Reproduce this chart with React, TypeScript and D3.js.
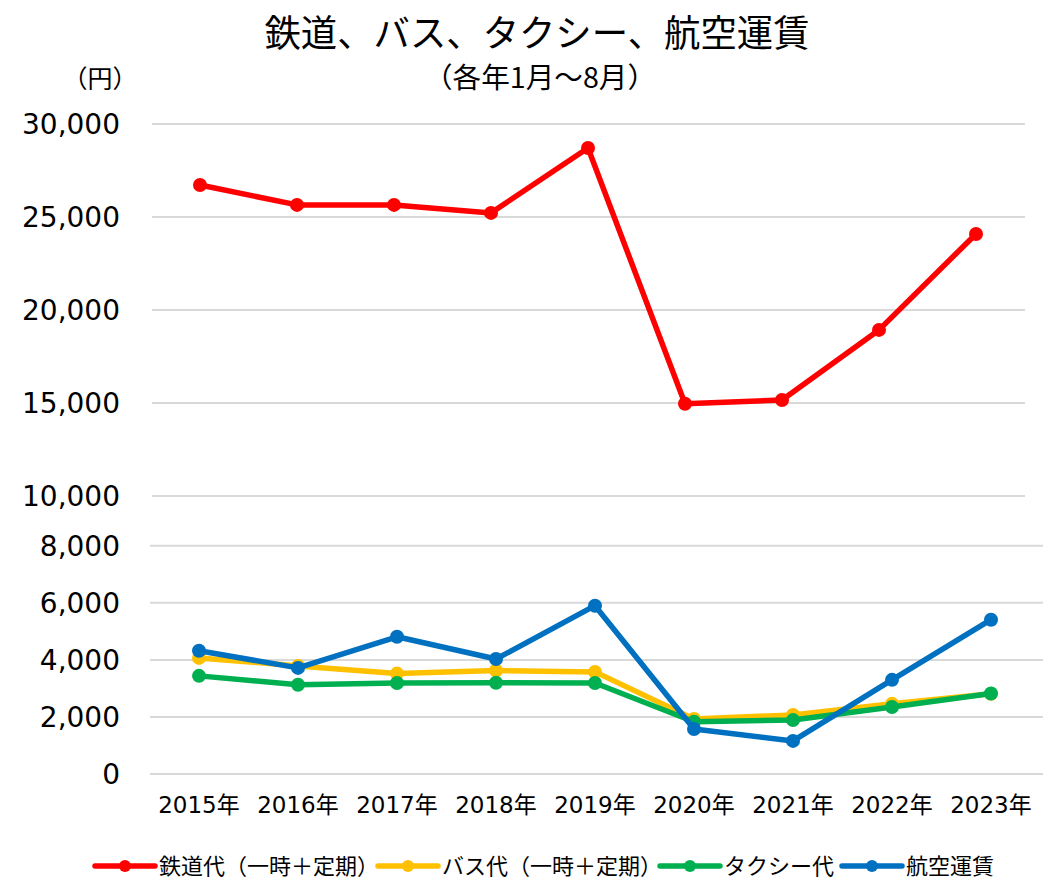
import React from "react";
import * as d3 from "d3";

const years = ["2015年", "2016年", "2017年", "2018年", "2019年", "2020年", "2021年", "2022年", "2023年"];
const railFare = [26720, 25650, 25650, 25220, 28710, 14960, 15160, 18930, 24090];
const busFare = [4070, 3790, 3520, 3630, 3580, 1930, 2070, 2460, 2810];
const taxiFare = [3440, 3130, 3190, 3200, 3190, 1830, 1890, 2350, 2820];
const airFare = [4320, 3720, 4810, 4030, 5900, 1580, 1160, 3300, 5410];
const upperTicks = [10000, 15000, 20000, 25000, 30000];
const lowerTicks = [0, 2000, 4000, 6000, 8000];
const seriesNames = ["鉄道代（一時＋定期）", "バス代（一時＋定期）", "タクシー代", "航空運賃"];
const seriesColors = ["#FF0000", "#FFC000", "#00B050", "#0070C0"];

const FONT = "'Noto Sans CJK JP', 'Noto Sans', sans-serif";
const NUMFONT = "'DejaVu Sans', 'Noto Sans CJK JP', sans-serif";

export default function App() {
  const W = 1043, H = 879;
  const fmt = d3.format(",");

  const xUpper = d3.scaleBand<string>().domain(years).range([151.5, 1024.5]);
  const yUpper = d3.scaleLinear().domain([10000, 30000]).range([496, 124]);
  const xLower = d3.scaleBand<string>().domain(years).range([149.5, 1040.5]);
  const yLower = d3.scaleLinear().domain([0, 8000]).range([774, 545.8]);

  const lineU = d3.line<number>()
    .x((_, i) => xUpper(years[i])! + xUpper.bandwidth() / 2)
    .y((d) => yUpper(d));
  const lineL = d3.line<number>()
    .x((_, i) => xLower(years[i])! + xLower.bandwidth() / 2)
    .y((d) => yLower(d));

  const lowerSeries = [
    { data: busFare, color: seriesColors[1] },
    { data: taxiFare, color: seriesColors[2] },
    { data: airFare, color: seriesColors[3] },
  ];

  const legendItems = [
    { x: 95, name: seriesNames[0], color: seriesColors[0] },
    { x: 378, name: seriesNames[1], color: seriesColors[1] },
    { x: 660, name: seriesNames[2], color: seriesColors[2] },
    { x: 842, name: seriesNames[3], color: seriesColors[3] },
  ];

  return (
    <svg width={W} height={H} style={{ position: "absolute", left: 0, top: 0, background: "#fff" }} fontFamily={FONT}>
      <rect x={0} y={0} width={W} height={H} fill="#fff" />
      <text x={537} y={47} textAnchor="middle" fontSize={37} fill="#000" textLength={545} lengthAdjust="spacingAndGlyphs">鉄道、バス、タクシー、航空運賃</text>
      <text x={540} y={88} textAnchor="middle" fontSize={28} fill="#000" textLength={232} lengthAdjust="spacingAndGlyphs">（各年1月～8月）</text>
      <text x={100} y={88} textAnchor="middle" fontSize={25} fill="#000">（円）</text>

      {/* lower gridlines */}
      {lowerTicks.map((t) => (
        <g key={"l" + t}>
          <line x1={150} x2={1043} y1={yLower(t)} y2={yLower(t)} stroke="#d9d9d9" strokeWidth={2} />
          <text x={120} y={yLower(t)} dy="0.36em" textAnchor="end" fontSize={28} fontFamily={NUMFONT} fill="#000">{fmt(t)}</text>
        </g>
      ))}
      {/* upper gridlines */}
      {upperTicks.map((t) => (
        <g key={"u" + t}>
          <line x1={152} x2={1025} y1={yUpper(t)} y2={yUpper(t)} stroke="#d9d9d9" strokeWidth={2} />
          <text x={120} y={yUpper(t)} dy="0.36em" textAnchor="end" fontSize={28} fontFamily={NUMFONT} fill="#000">{fmt(t)}</text>
        </g>
      ))}

      {years.map((y) => (
        <text key={y} x={xLower(y)! + xLower.bandwidth() / 2} y={813} textAnchor="middle" fontSize={23} fontFamily={NUMFONT} fill="#000">{y}</text>
      ))}

      {/* upper series */}
      <path d={lineU(railFare)!} fill="none" stroke={seriesColors[0]} strokeWidth={5.5} strokeLinejoin="round" />
      {railFare.map((v, i) => (
        <circle key={i} cx={xUpper(years[i])! + xUpper.bandwidth() / 2} cy={yUpper(v)} r={7} fill={seriesColors[0]} />
      ))}

      {lowerSeries.map((s, si) => (
        <g key={si}>
          <path d={lineL(s.data)!} fill="none" stroke={s.color} strokeWidth={5.5} strokeLinejoin="round" />
          {s.data.map((v, i) => (
            <circle key={i} cx={xLower(years[i])! + xLower.bandwidth() / 2} cy={yLower(v)} r={7} fill={s.color} />
          ))}
        </g>
      ))}

      {legendItems.map((l) => (
        <g key={l.name}>
          <line x1={l.x} x2={l.x + 60} y1={866} y2={866} stroke={l.color} strokeWidth={5.5} strokeLinecap="round" />
          <circle cx={l.x + 30} cy={866} r={6} fill={l.color} />
          <text x={l.x + 64} y={866} dy="0.35em" fontSize={22} fill="#000">{l.name}</text>
        </g>
      ))}
    </svg>
  );
}
